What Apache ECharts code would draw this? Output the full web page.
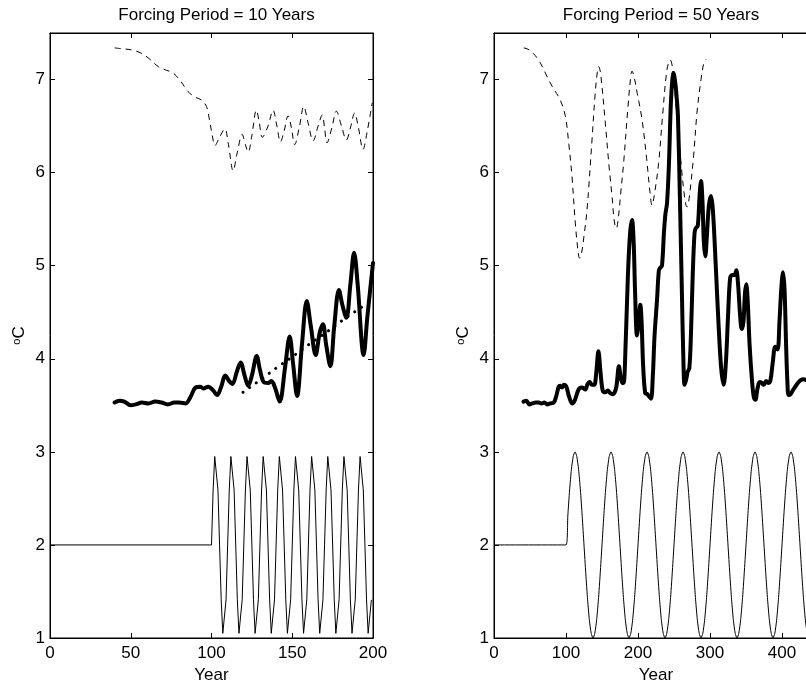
<!DOCTYPE html>
<html>
<head>
<meta charset="utf-8">
<script src="https://cdn.jsdelivr.net/npm/echarts@6/dist/echarts.min.js"></script>
<style>
  html, body { margin: 0; padding: 0; background: #fff; }
  #chart { width: 806px; height: 683px; }
</style>
</head>
<body>
<div id="chart"></div>
<script>
  // --- left panel: forcing period 10 years ---
  const titles = ['Forcing Period = 10 Years', 'Forcing Period = 50 Years'];
  const yTicks = [1, 2, 3, 4, 5, 6, 7];

  // forcing, yearly samples from year 100 (flat at 2 before that)
  const forcing10Years = [0].concat(Array.from({length: 100}, (_, i) => 100 + i));
  const forcing10 = [2.00,
    2.00, 2.59, 2.95, 2.95, 2.59, 2.00, 1.41, 1.05, 1.05, 1.41,
    2.00, 2.59, 2.95, 2.95, 2.59, 2.00, 1.41, 1.05, 1.05, 1.41,
    2.00, 2.59, 2.95, 2.95, 2.59, 2.00, 1.41, 1.05, 1.05, 1.41,
    2.00, 2.59, 2.95, 2.95, 2.59, 2.00, 1.41, 1.05, 1.05, 1.41,
    2.00, 2.59, 2.95, 2.95, 2.59, 2.00, 1.41, 1.05, 1.05, 1.41,
    2.00, 2.59, 2.95, 2.95, 2.59, 2.00, 1.41, 1.05, 1.05, 1.41,
    2.00, 2.59, 2.95, 2.95, 2.59, 2.00, 1.41, 1.05, 1.05, 1.41,
    2.00, 2.59, 2.95, 2.95, 2.59, 2.00, 1.41, 1.05, 1.05, 1.41,
    2.00, 2.59, 2.95, 2.95, 2.59, 2.00, 1.41, 1.05, 1.05, 1.41,
    2.00, 2.59, 2.95, 2.95, 2.59, 2.00, 1.41, 1.05, 1.05, 1.41];

  const resp10Years = [40, 43, 46, 50, 53, 57, 61, 65, 69, 73, 77, 80, 84, 87, 90, 93, 95, 98, 101, 103.5,
    106, 108.5, 111, 113, 115.5, 118, 120.5, 122.7, 125, 128, 130, 132.3, 135, 137.1, 139.5, 142.2,
    145.5, 148.4, 150.5, 153, 156, 159, 161.5, 164.5, 167, 169, 171, 173.6, 176, 178.9, 181, 183.5,
    186, 188.3, 190.5, 194.2, 196.5, 200];
  const resp10 = [3.53, 3.55, 3.54, 3.50, 3.51, 3.53, 3.52, 3.54, 3.53, 3.51, 3.53, 3.53, 3.52, 3.59, 3.69, 3.70, 3.68, 3.70, 3.66, 3.61,
    3.70, 3.82, 3.76, 3.73, 3.85, 3.96, 3.82, 3.71, 3.82, 4.03, 3.88, 3.75, 3.74, 3.76, 3.68, 3.54,
    3.90, 4.24, 3.95, 3.60, 4.15, 4.62, 4.35, 4.04, 4.28, 4.37, 4.15, 3.92, 4.35, 4.74, 4.58, 4.44,
    4.80, 5.14, 4.80, 4.04, 4.45, 5.03];

  const trend10Years = [119.5, 130, 140, 150, 160, 170, 180, 190, 197];
  const trend10 = [3.64, 3.77, 3.90, 4.02, 4.15, 4.27, 4.40, 4.52, 4.60];

  const upper10Years = [40, 45, 50, 55.7, 61, 67, 72, 76.3, 81, 85.5, 90, 93.8, 96.9, 98.5, 101, 102,
    105, 108.2, 110.5, 113.4, 116, 119, 121, 122.7, 125, 127.8, 129.5, 131.5, 135, 138.1, 140.5, 142.7,
    145, 147.4, 149.5, 151.5, 154.5, 157.1, 160, 162.9, 166, 168.6, 170, 171.5, 174.5, 177.3, 180.5,
    183.5, 186, 188.6, 191, 193.8, 196.5, 199.5];
  const upper10 = [7.34, 7.33, 7.32, 7.29, 7.23, 7.14, 7.10, 7.07, 6.98, 6.87, 6.81, 6.78, 6.71, 6.59, 6.35, 6.29,
    6.38, 6.47, 6.30, 6.02, 6.22, 6.41, 6.30, 6.22, 6.40, 6.67, 6.55, 6.38, 6.50, 6.67, 6.50, 6.33,
    6.45, 6.61, 6.48, 6.30, 6.50, 6.71, 6.52, 6.34, 6.50, 6.62, 6.48, 6.32, 6.48, 6.66, 6.50,
    6.35, 6.48, 6.64, 6.48, 6.25, 6.45, 6.75];

  // --- right panel: forcing period 50 years ---
  const forcing50Years = [0].concat(Array.from({length: 141}, (_, i) => 100 + i * 2.5));
  const forcing50 = [2.00,
    2.00, 2.31, 2.59, 2.81, 2.95, 3.00, 2.95, 2.81, 2.59, 2.31, 2.00, 1.69, 1.41, 1.19, 1.05, 1.00, 1.05, 1.19, 1.41, 1.69,
    2.00, 2.31, 2.59, 2.81, 2.95, 3.00, 2.95, 2.81, 2.59, 2.31, 2.00, 1.69, 1.41, 1.19, 1.05, 1.00, 1.05, 1.19, 1.41, 1.69,
    2.00, 2.31, 2.59, 2.81, 2.95, 3.00, 2.95, 2.81, 2.59, 2.31, 2.00, 1.69, 1.41, 1.19, 1.05, 1.00, 1.05, 1.19, 1.41, 1.69,
    2.00, 2.31, 2.59, 2.81, 2.95, 3.00, 2.95, 2.81, 2.59, 2.31, 2.00, 1.69, 1.41, 1.19, 1.05, 1.00, 1.05, 1.19, 1.41, 1.69,
    2.00, 2.31, 2.59, 2.81, 2.95, 3.00, 2.95, 2.81, 2.59, 2.31, 2.00, 1.69, 1.41, 1.19, 1.05, 1.00, 1.05, 1.19, 1.41, 1.69,
    2.00, 2.31, 2.59, 2.81, 2.95, 3.00, 2.95, 2.81, 2.59, 2.31, 2.00, 1.69, 1.41, 1.19, 1.05, 1.00, 1.05, 1.19, 1.41, 1.69,
    2.00, 2.31, 2.59, 2.81, 2.95, 3.00, 2.95, 2.81, 2.59, 2.31, 2.00, 1.69, 1.41, 1.19, 1.05, 1.00, 1.05, 1.19, 1.41, 1.69,
    2.00];

  const resp50Years = [41, 45, 49, 53, 58, 62, 66, 70, 74, 78, 83, 86.5, 89.8, 92, 94.4, 97, 100.4, 104, 108.5, 112,
    117.5, 122, 126.8, 130, 132.8, 136, 139.3, 142, 145, 148, 151, 154.6, 158, 161.5, 165, 167.1, 170, 173.5,
    176, 178.5, 180, 183, 186, 189, 191.7, 194, 196, 198.6, 201, 203.2, 205, 207, 210, 213, 215, 218, 220.5,
    223, 226.4, 229, 231, 233.3, 236, 238, 240.3, 243, 246, 249.4, 252, 253.8, 255.5, 258, 261, 263, 264.7,
    267, 269, 271.3, 273.5, 276, 278.5, 280, 283, 285.5, 287.5, 289.5, 291.5, 293.5, 295.5, 298.5, 301.4,
    304, 308, 312, 315.5, 318.9, 322, 325, 328, 331, 334, 336.5, 339, 341.5, 344, 346.5, 348.5, 350.4, 352.5,
    355, 358.5, 361, 363, 366, 369, 372, 374.6, 378, 381.4, 384, 387, 390.7, 393.9, 396.5, 399, 401.4, 403.5,
    405.5, 407.5, 409.2, 412, 415, 418.5, 422, 426, 429.6, 434];
  const resp50 = [3.54, 3.55, 3.51, 3.52, 3.53, 3.53, 3.52, 3.53, 3.51, 3.52, 3.53, 3.60, 3.70, 3.71, 3.69, 3.72, 3.70, 3.60, 3.52, 3.55,
    3.67, 3.69, 3.67, 3.73, 3.75, 3.72, 3.72, 3.85, 4.08, 3.85, 3.66, 3.64, 3.66, 3.63, 3.62, 3.63, 3.70, 3.92,
    3.80, 3.74, 3.74, 4.20, 4.90, 5.35, 5.49, 5.25, 4.70, 4.25, 4.40, 4.58, 4.40, 3.95, 3.63, 3.62, 3.60, 3.57, 3.80,
    4.25, 4.63, 4.95, 4.98, 5.00, 5.35, 5.55, 5.67, 6.10, 6.80, 7.07, 6.95, 6.80, 6.60, 5.80, 4.70, 4.00, 3.72,
    3.78, 3.86, 3.90, 4.25, 4.90, 5.35, 5.40, 5.43, 5.75, 5.91, 5.70, 5.25, 5.10, 5.30, 5.65, 5.75,
    5.60, 5.00, 4.35, 3.90, 3.72, 3.95, 4.45, 4.87, 4.90, 4.90, 4.95, 4.80, 4.50, 4.32, 4.40, 4.70, 4.80, 4.60,
    4.15, 3.75, 3.58, 3.56, 3.68, 3.75, 3.74, 3.72, 3.76, 3.74, 3.77, 3.95, 4.13, 4.10, 4.40, 4.75, 4.93, 4.75,
    4.20, 3.75, 3.61, 3.62, 3.66, 3.70, 3.74, 3.77, 3.78, 3.77];

  const upper50Years = [41.2, 46, 50.4, 57, 64.3, 72, 80.5, 87, 92.1, 99, 104, 108.3, 113, 116.5, 118.9, 121.5,
    125, 129.2, 136.1, 140.5, 143.5, 145.3, 148, 154.6, 160, 163.9, 167, 169.9, 172.5, 176, 180, 186, 189.5,
    191.7, 194, 199, 205.6, 212, 216.5, 219.4, 222.5, 228.6, 234, 240.3, 244.9, 248, 254.2, 260, 265, 268,
    271, 277.2, 282, 287.5, 291.5, 294.9];
  const upper50 = [7.34, 7.33, 7.31, 7.26, 7.18, 7.06, 6.93, 6.85, 6.78, 6.61, 6.30, 5.96, 5.45, 5.17, 5.08, 5.13,
    5.32, 5.60, 6.35, 6.85, 7.08, 7.14, 7.07, 6.53, 6.05, 5.75, 5.48, 5.40, 5.50, 5.78, 6.10, 6.70, 7.00,
    7.09, 7.05, 6.85, 6.57, 6.15, 5.80, 5.65, 5.75, 6.10, 6.60, 7.11, 7.21, 7.12, 6.60, 6.08, 5.72, 5.63,
    5.72, 6.18, 6.65, 7.00, 7.18, 7.22];

  const font = "'Liberation Sans', Arial, Helvetica, sans-serif";
  const pairs = (xs, ys) => xs.map((x, i) => [x, ys[i]]);

  function xAxes(gridIndex, max, interval) {
    const base = {
      gridIndex: gridIndex, type: 'value', min: 0, max: max, interval: interval,
      axisLine: {show: true, onZero: false, lineStyle: {color: '#000', width: 1}},
      axisTick: {show: true, inside: true, length: 5, lineStyle: {color: '#000'}},
      splitLine: {show: false}
    };
    return [
      Object.assign({}, base, {
        position: 'bottom', name: 'Year', nameLocation: 'middle', nameGap: 26,
        nameTextStyle: {fontSize: 17, color: '#000', fontFamily: font},
        axisLabel: {show: true, margin: 7, fontSize: 17, color: '#000', fontFamily: font, showMaxLabel: max % interval === 0}
      }),
      Object.assign({}, base, {position: 'top', axisLabel: {show: false}})
    ];
  }

  function yAxes(gridIndex, nameGap) {
    const base = {
      gridIndex: gridIndex, type: 'value', min: 1, max: 7.5, interval: 1,
      axisLine: {show: true, onZero: false, lineStyle: {color: '#000', width: 1}},
      axisTick: {show: true, inside: true, length: 5, lineStyle: {color: '#000'}},
      splitLine: {show: false}
    };
    return [
      Object.assign({}, base, {
        position: 'left', name: '{s|o}C', nameLocation: 'middle', nameGap: nameGap, nameRotate: 90,
        nameTextStyle: {
          fontSize: 17, color: '#000', fontFamily: font,
          rich: {s: {fontSize: 11, color: '#000', fontFamily: font, verticalAlign: 'top', padding: [0, 0, 6, 0]}}
        },
        axisLabel: {show: true, margin: 5, fontSize: 17, color: '#000', fontFamily: font, showMaxLabel: false}
      }),
      Object.assign({}, base, {position: 'right', axisLabel: {show: false}})
    ];
  }

  function line(xi, yi, data, style, smooth) {
    return {
      type: 'line', xAxisIndex: xi, yAxisIndex: yi, data: data,
      showSymbol: false, symbol: 'none', smooth: smooth || false,
      lineStyle: Object.assign({color: '#000'}, style),
      z: 2, silent: true
    };
  }

  const chart = echarts.init(document.getElementById('chart'), null, {renderer: 'canvas'});
  chart.setOption({
    animation: false,
    backgroundColor: '#fff',
    textStyle: {fontFamily: font, color: '#000'},
    title: [
      {text: titles[0], left: 211.5, top: 2, textAlign: 'center',
        textStyle: {fontSize: 17, fontWeight: 'normal', color: '#000', fontFamily: font}},
      {text: titles[1], left: 656, top: 2, textAlign: 'center',
        textStyle: {fontSize: 17, fontWeight: 'normal', color: '#000', fontFamily: font}}
    ],
    grid: [
      {left: 50, right: 433, top: 33, bottom: 45, containLabel: false, outerBoundsMode: 'none',
        show: true, borderColor: '#000', borderWidth: 1, backgroundColor: '#fff'},
      {left: 494, right: -12, top: 33, bottom: 45, containLabel: false, outerBoundsMode: 'none',
        show: true, borderColor: '#000', borderWidth: 1, backgroundColor: '#fff'}
    ],
    xAxis: xAxes(0, 200, 50).concat(xAxes(1, 450, 100)),
    yAxis: yAxes(0, 22).concat(yAxes(1, 22)),
    series: [
      line(0, 0, pairs(forcing10Years, forcing10), {width: 1}),
      line(0, 0, pairs(upper10Years, upper10), {width: 1, type: [6, 5]}, 0.35),
      line(0, 0, pairs(trend10Years, trend10), {width: 3, type: [0.1, 8], cap: 'round'}),
      line(0, 0, pairs(resp10Years, resp10), {width: 4, cap: 'round', join: 'round'}, 0.35),
      line(2, 2, pairs(forcing50Years, forcing50), {width: 1}, 0.2),
      line(2, 2, pairs(upper50Years, upper50), {width: 1, type: [6, 5]}, 0.35),
      line(2, 2, pairs(resp50Years, resp50), {width: 4, cap: 'round', join: 'round'}, 0.35)
    ]
  });
</script>
</body>
</html>
